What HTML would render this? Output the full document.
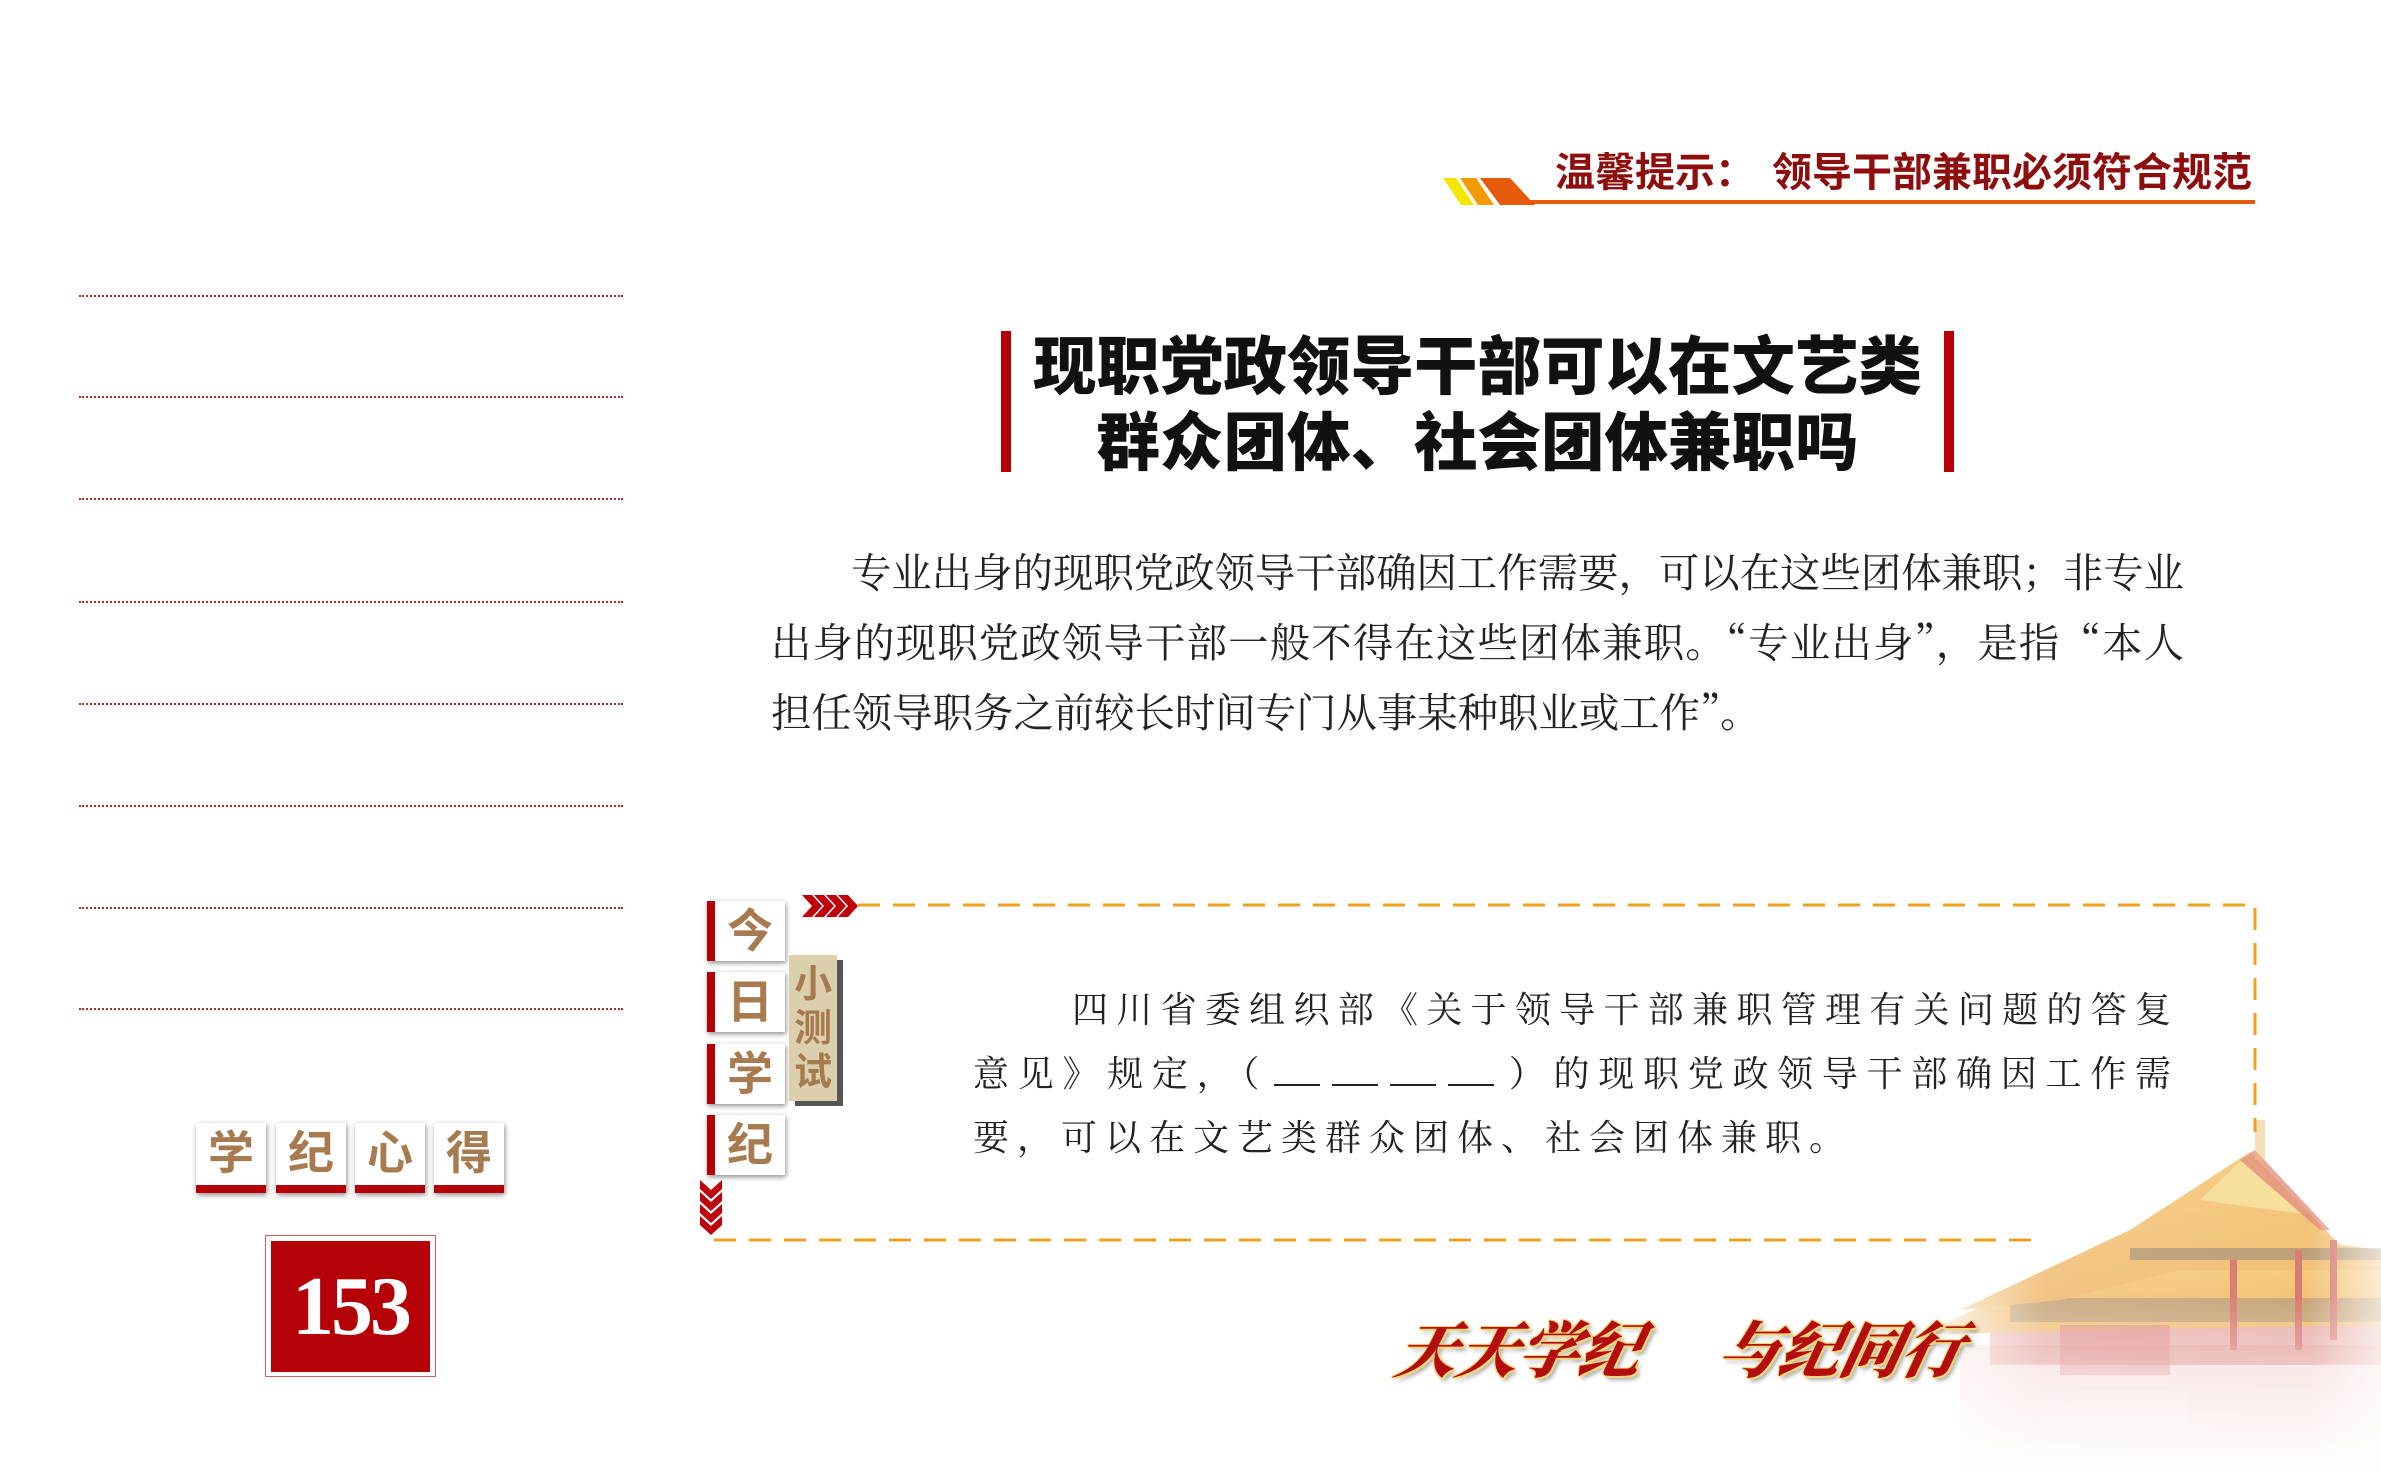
<!DOCTYPE html>
<html><head><meta charset="utf-8">
<style>
html,body{margin:0;padding:0;}
body{width:2381px;height:1474px;position:relative;background:#fff;overflow:hidden;font-family:"Liberation Sans","Noto Sans CJK SC",sans-serif;}
.a{position:absolute;}
.dot{position:absolute;left:79px;width:544px;border-top:2px dotted #a0302a;}
.hd{font-weight:bold;color:#8e0e0e;font-size:40px;white-space:nowrap;}
.title{font-weight:900;font-size:63.5px;color:#111;white-space:nowrap;text-align:center;left:1011px;width:933px;}
.p{font-family:"Noto Serif CJK SC","Liberation Serif",serif;font-size:40.4px;color:#222;white-space:nowrap;}
.j{text-align:justify;text-align-last:justify;}
.q{font-family:"Noto Serif CJK SC","Liberation Serif",serif;font-size:36px;color:#222;white-space:nowrap;text-align:justify;text-align-last:justify;}
.bl{display:inline-block;width:46px;border-bottom:2px solid #222;height:30px;margin:0 6px;vertical-align:baseline;}
.tile{position:absolute;width:78px;height:60px;background:#fff;box-shadow:1px 2px 5px rgba(0,0,0,.45);}
.tile span{position:absolute;left:8px;right:0;top:0;bottom:0;text-align:center;line-height:60px;font-size:46px;font-weight:bold;color:#a87a4f;}
.tile:before{content:"";position:absolute;left:0;top:0;bottom:0;width:8px;background:#b50008;}
.t2{position:absolute;width:70px;height:70px;background:#fff;box-shadow:1px 2px 5px rgba(0,0,0,.45);border-bottom:8px solid #b50008;box-sizing:border-box;text-align:center;line-height:60px;font-size:46px;font-weight:bold;color:#a87a4f;}
.sl{font-family:"Liberation Serif","Noto Serif CJK SC",serif;font-weight:900;font-style:italic;font-size:61px;color:#b30d10;white-space:nowrap;transform:skewX(-12deg);text-shadow:2px 2px 0 #f5d77a,-1px -1px 0 #f5d77a,1px -1px 0 #f5d77a,-1px 1px 0 #f5d77a,4px 4px 4px rgba(0,0,0,.35);}
</style></head><body>

<!-- header -->
<svg class="a" style="left:1440px;top:175px" width="110" height="32">
<polygon points="3,3 16,3 34,30 21,30" fill="#f5e600"/>
<polygon points="20,3 36,3 54,30 38,30" fill="#f39a00"/>
<polygon points="40,3 70,3 95,30 60,30" fill="#e65a0c"/>
</svg>
<div class="a" style="left:1500px;top:200px;width:755px;height:4px;background:#e65a0c"></div>
<div class="a hd" style="left:1555px;top:140px;">温馨提示：</div>
<div class="a hd" style="left:1772px;top:140px;font-size:40px;">领导干部兼职必须符合规范</div>

<!-- dotted lines -->
<div class="dot" style="top:295px"></div>
<div class="dot" style="top:396px"></div>
<div class="dot" style="top:498px"></div>
<div class="dot" style="top:601px"></div>
<div class="dot" style="top:703px"></div>
<div class="dot" style="top:805px"></div>
<div class="dot" style="top:907px"></div>
<div class="dot" style="top:1008px"></div>

<!-- title -->
<div class="a" style="left:1001px;top:331px;width:10px;height:141px;background:#b50008"></div>
<div class="a" style="left:1944px;top:331px;width:10px;height:141px;background:#b50008"></div>
<div class="a title" style="top:316px;">现职党政领导干部可以在文艺类</div>
<div class="a title" style="top:392px;">群众团体、社会团体兼职吗</div>

<!-- paragraph -->
<div class="a p j" style="left:851px;top:540px;width:1333px;">专业出身的现职党政领导干部确因工作需要，可以在这些团体兼职；非专业</div>
<div class="a p j" style="left:771px;top:610px;width:1413px;">出身的现职党政领导干部一般不得在这些团体兼职。“专业出身”，是指“本人</div>
<div class="a p" style="left:771px;top:680px;">担任领导职务之前较长时间专门从事某种职业或工作”。</div>

<!-- palace -->
<svg class="a" style="left:1900px;top:1120px" width="481" height="354">
<defs>
<linearGradient id="rf" x1="0" y1="0" x2="0" y2="1"><stop offset="0" stop-color="#f2b544"/><stop offset="1" stop-color="#e89a30"/></linearGradient>
<linearGradient id="fade" x1="0" y1="0" x2="0" y2="1"><stop offset="0.5" stop-color="#fff" stop-opacity="0"/><stop offset="1" stop-color="#fff" stop-opacity="1"/></linearGradient>
<linearGradient id="fadel" x1="0" y1="0" x2="1" y2="0"><stop offset="0" stop-color="#fff" stop-opacity="1"/><stop offset="0.3" stop-color="#fff" stop-opacity="0.2"/><stop offset="0.85" stop-color="#fff" stop-opacity="0.1"/><stop offset="1" stop-color="#fff" stop-opacity=".7"/></linearGradient>
</defs>
<g opacity="0.75">
<rect x="60" y="225" width="421" height="129" fill="#f0c7c2"/>
<rect x="90" y="190" width="391" height="55" fill="#c63b2f" opacity=".6"/>
<rect x="140" y="270" width="150" height="45" fill="#f0d0cc"/>
<polygon points="20,215 160,150 260,143 360,138 481,140 481,205 200,210" fill="url(#rf)"/>
<rect x="110" y="178" width="371" height="24" fill="#7a5a3a" opacity=".55"/>
<polygon points="60,190 230,110 350,32 440,125 481,130 481,150 280,150 160,180" fill="url(#rf)"/>
<polygon points="350,32 300,80 410,95" fill="#f4cf6b"/>
<polygon points="340,40 420,110 430,110 355,30" fill="#d0442f" opacity=".7"/>
<rect x="230" y="128" width="251" height="12" fill="#5a4a3a" opacity=".55"/>
<rect x="355" y="0" width="10" height="40" fill="#e89a30" opacity=".5"/>
<rect x="160" y="205" width="110" height="50" fill="#c8353a" opacity=".5"/>
<rect x="330" y="140" width="7" height="90" fill="#c63b2f"/>
<rect x="395" y="130" width="7" height="100" fill="#c63b2f"/>
<rect x="430" y="120" width="7" height="100" fill="#c63b2f"/>
</g>
<rect x="0" y="0" width="481" height="354" fill="url(#fade)"/>
<rect x="0" y="0" width="481" height="354" fill="url(#fadel)"/>
</svg>

<!-- quiz box -->
<svg class="a" style="left:700px;top:880px" width="1600" height="380">
<path d="M158 25 H1555 V252" fill="none" stroke="#f0a020" stroke-width="3" stroke-dasharray="22 13"/>
<path d="M14 360 H1343" fill="none" stroke="#f0a020" stroke-width="3" stroke-dasharray="22 13"/>
<g fill="#c0000a">
<polygon points="102,15 112,15 122,26 112,37 102,37 112,26"/>
<polygon points="114,15 124,15 134,26 124,37 114,37 124,26"/>
<polygon points="126,15 136,15 146,26 136,37 126,37 136,26"/>
<polygon points="138,15 148,15 158,26 148,37 138,37 148,26"/>
<polygon points="0,300 11,310 22,300 22,309 11,319 0,309"/>
<polygon points="0,312 11,322 22,312 22,321 11,331 0,321"/>
<polygon points="0,324 11,334 22,324 22,333 11,343 0,333"/>
<polygon points="0,336 11,346 22,336 22,345 11,355 0,345"/>
</g>
</svg>
<div class="tile" style="left:707px;top:901px"><span>今</span></div>
<div class="tile" style="left:707px;top:972px"><span>日</span></div>
<div class="tile" style="left:707px;top:1044px"><span>学</span></div>
<div class="tile" style="left:707px;top:1115px"><span>纪</span></div>
<div class="a" style="left:789px;top:955px;width:48px;height:146px;background:#dccfae;box-shadow:6px 5px 0 #555;color:#a87a4f;font-weight:bold;font-size:38px;line-height:44px;text-align:center;padding-top:8px;box-sizing:border-box;">小<br>测<br>试</div>

<div class="a q" style="left:1072px;top:982px;width:1099px;">四川省委组织部《关于领导干部兼职管理有关问题的答复</div>
<div class="a q" style="left:973px;top:1046px;width:1198px;">意见》规定，（<span class="bl"></span><span class="bl"></span><span class="bl"></span><span class="bl"></span>）的现职党政领导干部确因工作需</div>
<div class="a q" style="left:973px;top:1110px;letter-spacing:8px;text-align:left;text-align-last:left;">要，可以在文艺类群众团体、社会团体兼职。</div>

<!-- left bottom -->
<div class="t2" style="left:196px;top:1123px">学</div>
<div class="t2" style="left:276px;top:1123px">纪</div>
<div class="t2" style="left:355px;top:1123px">心</div>
<div class="t2" style="left:434px;top:1123px">得</div>
<div class="a" style="left:265px;top:1235px;width:171px;height:142px;border:1.5px solid #d06060;box-sizing:border-box;"></div>
<div class="a" style="left:271px;top:1241px;width:159px;height:131px;background:#b50008;color:#fff;font-family:'Liberation Serif',serif;font-weight:bold;font-size:84px;text-align:center;line-height:131px;letter-spacing:-3px;">153</div>

<!-- slogan -->
<div class="a sl" style="left:1398px;top:1303px;">天天学纪</div>
<div class="a sl" style="left:1720px;top:1303px;">与纪同行</div>

</body></html>
